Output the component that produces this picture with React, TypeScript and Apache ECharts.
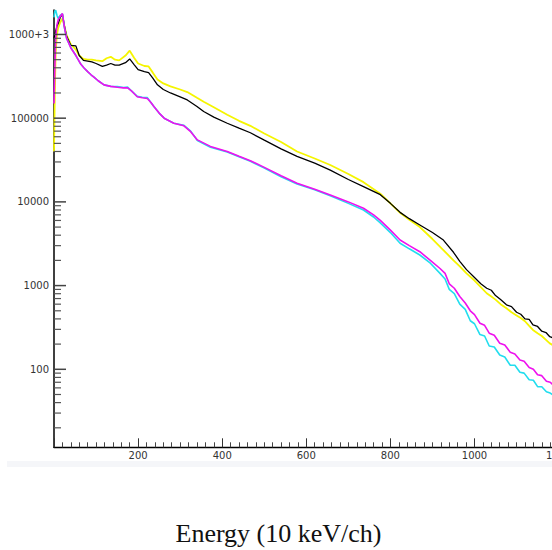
import React, { useEffect, useRef } from "react";
import * as echarts from "echarts";

// ---- data ----
const mainCh = [0, 2, 4, 7, 10, 15, 20, 25, 30, 40, 52, 60, 70, 80, 90, 100, 115, 125, 135, 145, 155, 170, 180, 190, 200, 215, 225, 235, 246, 260, 277, 300, 317, 340, 356, 380, 412, 440, 467, 499, 540, 578, 620, 657, 700, 736, 776, 800, 823, 845, 870, 900, 926, 950, 965, 981, 1000, 1015, 1029, 1040, 1050, 1062, 1076, 1088, 1100, 1110, 1120, 1130, 1139, 1150, 1160, 1170, 1179, 1190, 1200];

const blackVals = [9e5, 1.0e6, 1.1e6, 1.25e6, 1.35e6, 1.6e6, 1.75e6, 1.25e6, 9.5e5, 7.4e5, 7.3e5, 5.6e5, 4.9e5, 4.8e5, 4.7e5, 4.5e5, 4.15e5, 4.3e5, 4.5e5, 4.3e5, 4.3e5, 4.6e5, 5.1e5, 4.4e5, 3.8e5, 3.6e5, 3.5e5, 3.0e5, 2.5e5, 2.2e5, 2.0e5, 1.8e5, 1.65e5, 1.38e5, 1.2e5, 1.03e5, 8.7e4, 7.6e4, 6.7e4, 5.5e4, 4.3e4, 3.5e4, 2.9e4, 2.4e4, 1.85e4, 1.52e4, 1.22e4, 9.6e3, 7.5e3, 6.3e3, 5.3e3, 4.3e3, 3.5e3, 2.5e3, 1.95e3, 1.55e3, 1.25e3, 1.05e3, 930, 880, 760, 680, 590, 560, 480, 455, 400, 395, 340, 325, 285, 275, 245, 235, 215];

const yellowVals = [4e4, 2e5, 6e5, 1.0e6, 1.2e6, 1.4e6, 1.55e6, 1.25e6, 9.8e5, 7.6e5, 6.6e5, 5.6e5, 5.1e5, 5.0e5, 5.0e5, 4.9e5, 4.8e5, 5.2e5, 5.4e5, 5.0e5, 4.9e5, 5.6e5, 6.4e5, 5.3e5, 4.5e5, 4.2e5, 4.15e5, 3.5e5, 2.9e5, 2.6e5, 2.4e5, 2.2e5, 2.05e5, 1.75e5, 1.57e5, 1.35e5, 1.1e5, 9.3e4, 8.1e4, 6.6e4, 5.2e4, 4.0e4, 3.3e4, 2.76e4, 2.15e4, 1.72e4, 1.25e4, 9.6e3, 7.4e3, 6.1e3, 5.0e3, 3.6e3, 2.66e3, 2.0e3, 1.7e3, 1.4e3, 1.15e3, 960, 810, 740, 680, 600, 536, 480, 440, 410, 375, 330, 295, 270, 250, 225, 204, 190, 178];

const lowCh = [0, 2, 4, 7, 10, 15, 20, 25, 30, 40, 52, 64, 72, 80, 88, 95, 105, 119, 135, 151, 165, 175, 185, 198, 210, 222, 230, 238, 250, 262, 285, 309, 325, 341, 372, 412, 440, 467, 499, 540, 578, 620, 657, 700, 736, 760, 776, 800, 823, 845, 870, 895, 918, 930, 940, 952, 965, 978, 990, 1000, 1013, 1024, 1035, 1047, 1060, 1072, 1085, 1096, 1108, 1118, 1130, 1140, 1150, 1160, 1171, 1180, 1190, 1200];

const magentaVals = [1.5e5, 4e5, 9e5, 1.3e6, 1.5e6, 1.65e6, 1.78e6, 1.2e6, 9e5, 6.9e5, 5.6e5, 4.4e5, 3.95e5, 3.6e5, 3.3e5, 3.1e5, 2.8e5, 2.5e5, 2.4e5, 2.34e5, 2.3e5, 2.3e5, 2.1e5, 1.8e5, 1.75e5, 1.72e5, 1.55e5, 1.37e5, 1.15e5, 1.0e5, 8.7e4, 8.1e4, 6.9e4, 5.5e4, 4.6e4, 4.0e4, 3.5e4, 3.1e4, 2.6e4, 2.05e4, 1.67e4, 1.42e4, 1.21e4, 1.0e4, 8.4e3, 7.0e3, 6.0e3, 4.6e3, 3.5e3, 3.0e3, 2.54e3, 2.0e3, 1.6e3, 1.4e3, 1.05e3, 930, 740, 620, 500, 450, 355, 335, 270, 255, 205, 195, 160, 152, 129, 125, 105, 100, 86, 84, 72, 70, 63, 60];

const cyanVals = [1.6e6, 1.9e6, 1.95e6, 1.7e6, 1.55e6, 1.7e6, 1.76e6, 1.2e6, 9e5, 7.0e5, 5.6e5, 4.4e5, 3.95e5, 3.6e5, 3.3e5, 3.1e5, 2.8e5, 2.5e5, 2.4e5, 2.38e5, 2.32e5, 2.35e5, 2.1e5, 1.82e5, 1.78e5, 1.76e5, 1.55e5, 1.37e5, 1.15e5, 1.0e5, 8.7e4, 8.2e4, 7.0e4, 5.4e4, 4.5e4, 3.95e4, 3.45e4, 3.05e4, 2.55e4, 2.0e4, 1.64e4, 1.4e4, 1.18e4, 9.6e3, 8.0e3, 6.6e3, 5.6e3, 4.3e3, 3.2e3, 2.75e3, 2.32e3, 1.85e3, 1.4e3, 1.2e3, 900, 800, 600, 520, 380, 350, 260, 250, 190, 185, 148, 140, 112, 112, 92, 90, 75, 74, 62, 62, 54, 52, 48, 47];

// axis ticks / labels
const xTickStep = 200;
const yLabelValues = [100, 1000, 10000, 100000, 1000000];
const yLabelTexts = ["100", "1000", "10000", "100000", "1000+3"];
const yDecades = [10, 100, 1000, 10000, 100000, 1000000];
const yMultipliers = [1, 2, 3, 4, 5, 6, 7, 8, 9];
const yMin = 11.7;
const yMax = 1.96e6;

const xTitle = "Energy (10 keV/ch)";

function pairs(xs: number[], ys: number[]) {
  return xs.map((x, i) => [x, ys[i]]);
}

export default function App() {
  const ref = useRef<HTMLDivElement>(null);

  useEffect(() => {
    if (!ref.current) return;
    const chart = echarts.init(ref.current, null, { renderer: "svg" });

    const yTickData: number[][] = [];
    yDecades.forEach((d) => {
      yMultipliers.forEach((m) => {
        const v = d * m;
        if (v >= yMin && v <= yMax) yTickData.push([0, v, m === 1 ? 1 : 0]);
      });
    });

    const lineStyle = (color: string, width: number) => ({ color, width });

    chart.setOption({
      animation: false,
      backgroundColor: "#ffffff",
      grid: { left: 54, top: 10, width: 588.7, height: 437.3, containLabel: false },
      xAxis: {
        type: "value",
        min: 0,
        max: 1400,
        interval: xTickStep,
        axisLine: { show: true, onZero: false, lineStyle: { color: "#000", width: 1.4 } },
        axisTick: { show: true, inside: true, length: 9, lineStyle: { color: "#333", width: 1 } },
        minorTick: { show: true, splitNumber: 10, length: 5, lineStyle: { color: "#444", width: 1 } },
        splitLine: { show: false },
        axisLabel: {
          show: true,
          margin: 3,
          color: "#333",
          fontSize: 10,
          fontFamily: "DejaVu Sans",
          showMinLabel: false,
          formatter: (v: number) => (v === 0 ? "" : String(v)),
        },
      },
      yAxis: {
        type: "log",
        logBase: 10,
        min: yMin,
        max: yMax,
        axisLine: { show: true, lineStyle: { color: "#000", width: 1.5 } },
        axisTick: { show: false },
        splitLine: { show: false },
        axisLabel: {
          show: true,
          margin: 5,
          color: "#333",
          fontSize: 10,
          fontFamily: "DejaVu Sans",
          formatter: (v: number) => {
            const e = Math.log10(v);
            const r = Math.round(e);
            if (Math.abs(e - r) > 1e-4) return "";
            const i = yLabelValues.indexOf(Math.pow(10, r));
            return i >= 0 ? yLabelTexts[i] : "";
          },
        },
      },
      graphic: [
        {
          type: "rect",
          shape: { x: 7, y: 461, width: 545, height: 6 },
          style: { fill: "#f5f6f9" },
          silent: true,
          z: -1,
        },
        {
          type: "text",
          x: 278.5,
          y: 533,
          style: {
            text: xTitle,
            font: "26px 'Liberation Serif', 'Times New Roman', serif",
            fill: "#111",
            textAlign: "center",
            textVerticalAlign: "middle",
          },
        },
      ],
      series: [
        {
          type: "line",
          name: "yellow",
          data: pairs(mainCh, yellowVals),
          showSymbol: false,
          lineStyle: lineStyle("#f5f500", 1.8),
          z: 2,
        },
        {
          type: "line",
          name: "black",
          data: pairs(mainCh, blackVals),
          showSymbol: false,
          lineStyle: lineStyle("#000000", 1.3),
          z: 3,
        },
        {
          type: "line",
          name: "cyan",
          data: pairs(lowCh, cyanVals),
          showSymbol: false,
          lineStyle: lineStyle("#22ddee", 1.6),
          z: 4,
        },
        {
          type: "line",
          name: "magenta",
          data: pairs(lowCh, magentaVals),
          showSymbol: false,
          lineStyle: lineStyle("#ee11ee", 1.6),
          z: 5,
        },
        {
          type: "custom",
          name: "yticks",
          data: yTickData,
          clip: false,
          silent: true,
          z: 6,
          renderItem: (params: any, api: any) => {
            const p = api.coord([api.value(0), api.value(1)]);
            const major = api.value(2) === 1;
            const len = major ? 12 : 7;
            return {
              type: "line",
              shape: { x1: p[0], y1: p[1], x2: p[0] + len, y2: p[1] },
              style: { stroke: major ? "#444" : "#555", lineWidth: major ? 1.5 : 1.2 },
            };
          },
        },
      ],
    });

    return () => chart.dispose();
  }, []);

  return (
    <div
      style={{
        position: "absolute",
        left: 0,
        top: 0,
        width: 552,
        height: 550,
        overflow: "hidden",
        background: "#fff",
      }}
    >
      <div ref={ref} style={{ width: 700, height: 550 }} />
    </div>
  );
}
